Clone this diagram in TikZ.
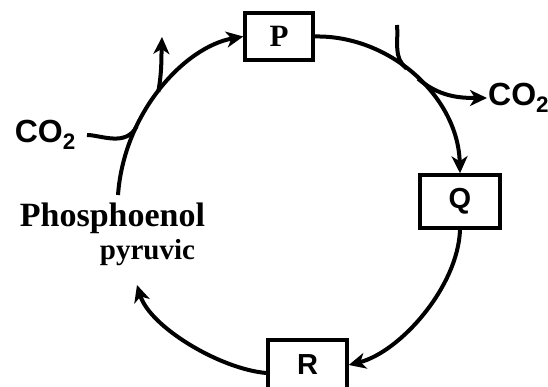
\documentclass[tikz,border=0pt]{standalone}
\usepackage{fontspec}
\setmainfont{Liberation Serif}
\setsansfont{Liberation Sans}
\usetikzlibrary{arrows.meta}
\tikzset{
  ln/.style={line width=4pt},
  arr/.style={line width=4pt, -{Stealth[length=17pt,width=16pt,inset=5pt]}},
  boxnode/.style={draw, line width=3.5pt, inner sep=0pt},
  serifbig/.style={font=\fontsize{34}{40}\selectfont\bfseries},
  serifmid/.style={font=\fontsize{29}{36}\selectfont\bfseries},
  sanslab/.style={font=\fontsize{29}{32}\selectfont\sffamily\bfseries},
  serlab/.style={font=\fontsize{31}{34}\selectfont\bfseries},
  co2lab/.style={font=\fontsize{32}{36}\selectfont\sffamily\bfseries, inner sep=1pt}
}
\begin{document}
\begin{tikzpicture}[x=1pt,y=1pt]
\useasboundingbox (0,0) rectangle (548,387);
\fill[white] (0,0) rectangle (548,387);
\begin{scope}
\clip (0,0) rectangle (548,387);
% boxes
\node[boxnode, serlab, minimum width=68pt, minimum height=47pt] (P) at (279,350.5) {P};
\node[boxnode, sanslab, minimum width=80pt, minimum height=53pt] (Q) at (460,185.5) {Q};
\node[boxnode, sanslab, minimum width=79pt, minimum height=50pt] (R) at (307.5,22) {R};
% texts
\node[serifbig, anchor=base, inner sep=0pt] (pep) at (112.5,160) {Phosphoenol};
\node[serifmid, anchor=base, inner sep=0pt] (pyr) at (147.5,127) {pyruvic};
\node[co2lab, anchor=east] (co2in) at (77,252) {CO\textsubscript{2}};
\node[co2lab, anchor=west] (co2out) at (487,289) {CO\textsubscript{2}};
% free ends
\coordinate (s1) at (118,192);
\coordinate (up1) at (162,350);
\coordinate (bin) at (397,362);
\coordinate (tipP) at (137,102);
% PEP -> P
\draw[arr] (s1) .. controls (124,275) and (185,340) ..
  coordinate[pos=0.3] (j1) coordinate[pos=0.48] (j2) (P.west);
% CO2 in
\draw[ln, shorten <=10pt] (co2in.east) to[out=0, in=244] (j1);
% branch out upward
\draw[arr] (j2) to[out=80, in=-92] (up1);
% P -> Q
\draw[arr] (P.east) .. controls (390,352) and (458,290) ..
  coordinate[pos=0.45] (j3) coordinate[pos=0.52] (j4) (Q.north);
% branch in from top
\draw[ln] (bin) to[out=-85, in=141] (j3);
% CO2 out
\draw[arr] (j4) to[out=-40, in=180] (co2out.west);
% Q -> R
\draw[arr] (Q.south) .. controls (458,100) and (400,35) .. (R.east);
% R -> PEP
\draw[arr] ([yshift=-8pt]R.west) .. controls (220,18) and (150,60) .. (tipP);
\end{scope}
\end{tikzpicture}
\end{document}
